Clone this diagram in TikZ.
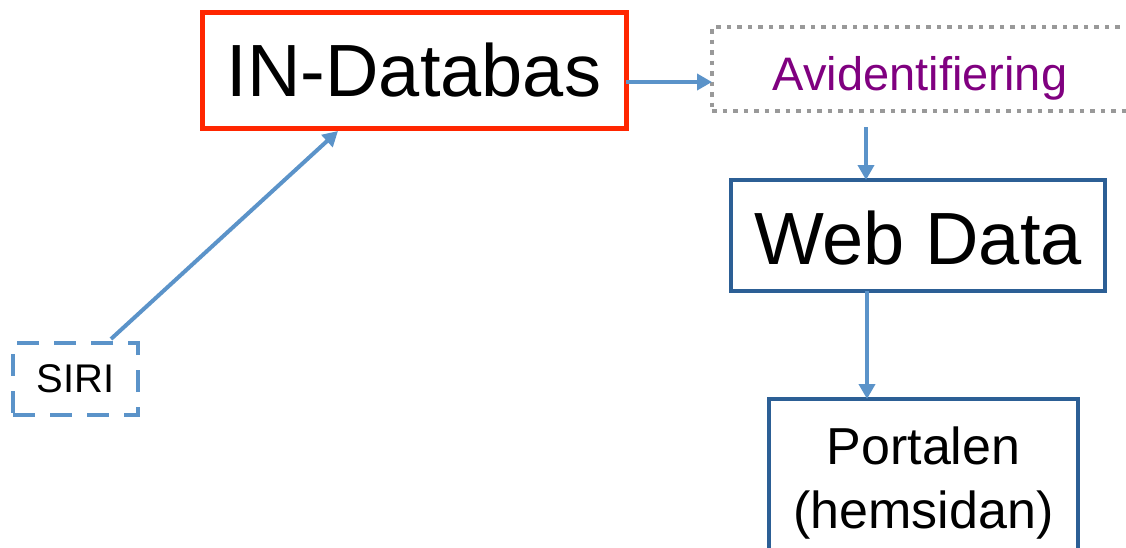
\documentclass[tikz,border=0pt]{standalone}
\usepackage{fontspec}
\setmainfont{Liberation Sans}
\usetikzlibrary{arrows.meta,calc}
\definecolor{arrowblue}{RGB}{91,147,201}
\definecolor{boxblue}{RGB}{44,95,149}
\definecolor{inred}{RGB}{255,38,0}
\definecolor{avpurple}{RGB}{128,0,128}
\definecolor{dotgray}{RGB}{153,153,153}
\tikzset{
  box/.style={rectangle, outer sep=0pt, inner sep=0pt, align=center},
  conn/.style={draw=arrowblue, line width=4pt, -{Triangle[length=15pt,width=16pt]}},
}
\begin{document}
\begin{tikzpicture}[x=1pt,y=-1pt]
\useasboundingbox (0,0) rectangle (1126,547);
\clip (0,0) rectangle (1126,547);
\node[box, draw=inred, line width=5pt, minimum width=424pt, minimum height=116pt,
      font=\fontsize{74}{89}\selectfont] (indb) at (414,70) {IN-Databas};
\node[box, draw=dotgray, line width=4.5pt, dash pattern=on 4.5pt off 6pt,
      minimum width=440pt, minimum height=84pt, anchor=west] (avid) at (712,69) {};
\node[box, text=avpurple, font=\fontsize{47}{56}\selectfont, anchor=base] (avidtxt) at (920,90) {Avidentifiering};
\node[box, draw=boxblue, line width=3.5pt, minimum width=374pt, minimum height=111pt,
      text height=58pt, text depth=0pt,
      font=\fontsize{74}{89}\selectfont] (web) at (918,235.5) {Web Data};
\node[box, draw=boxblue, line width=3.5pt, minimum width=309pt, minimum height=168pt,
      font=\fontsize{52}{64}\selectfont] (portal) at (923.5,483) {Portalen\\(hemsidan)};
\node[box, draw=arrowblue, line width=4pt, dash pattern=on 22pt off 15pt,
      minimum width=125pt, minimum height=72pt,
      font=\fontsize{40}{48}\selectfont] (siri) at (75.5,379) {SIRI};
\coordinate (sirifrom) at (111,339);
\coordinate (indbto) at (338,131);
\coordinate (avidfrom) at (866,127);
\draw[conn] (indb.east |- 0,82) -- (avid.west |- 0,82);
\draw[conn] (avidfrom) -- (web.north -| avidfrom);
\draw[conn] (web.south -| 867,0) -- (portal.north -| 867,0);
\draw[conn] (sirifrom) -- (indbto);
\end{tikzpicture}
\end{document}
